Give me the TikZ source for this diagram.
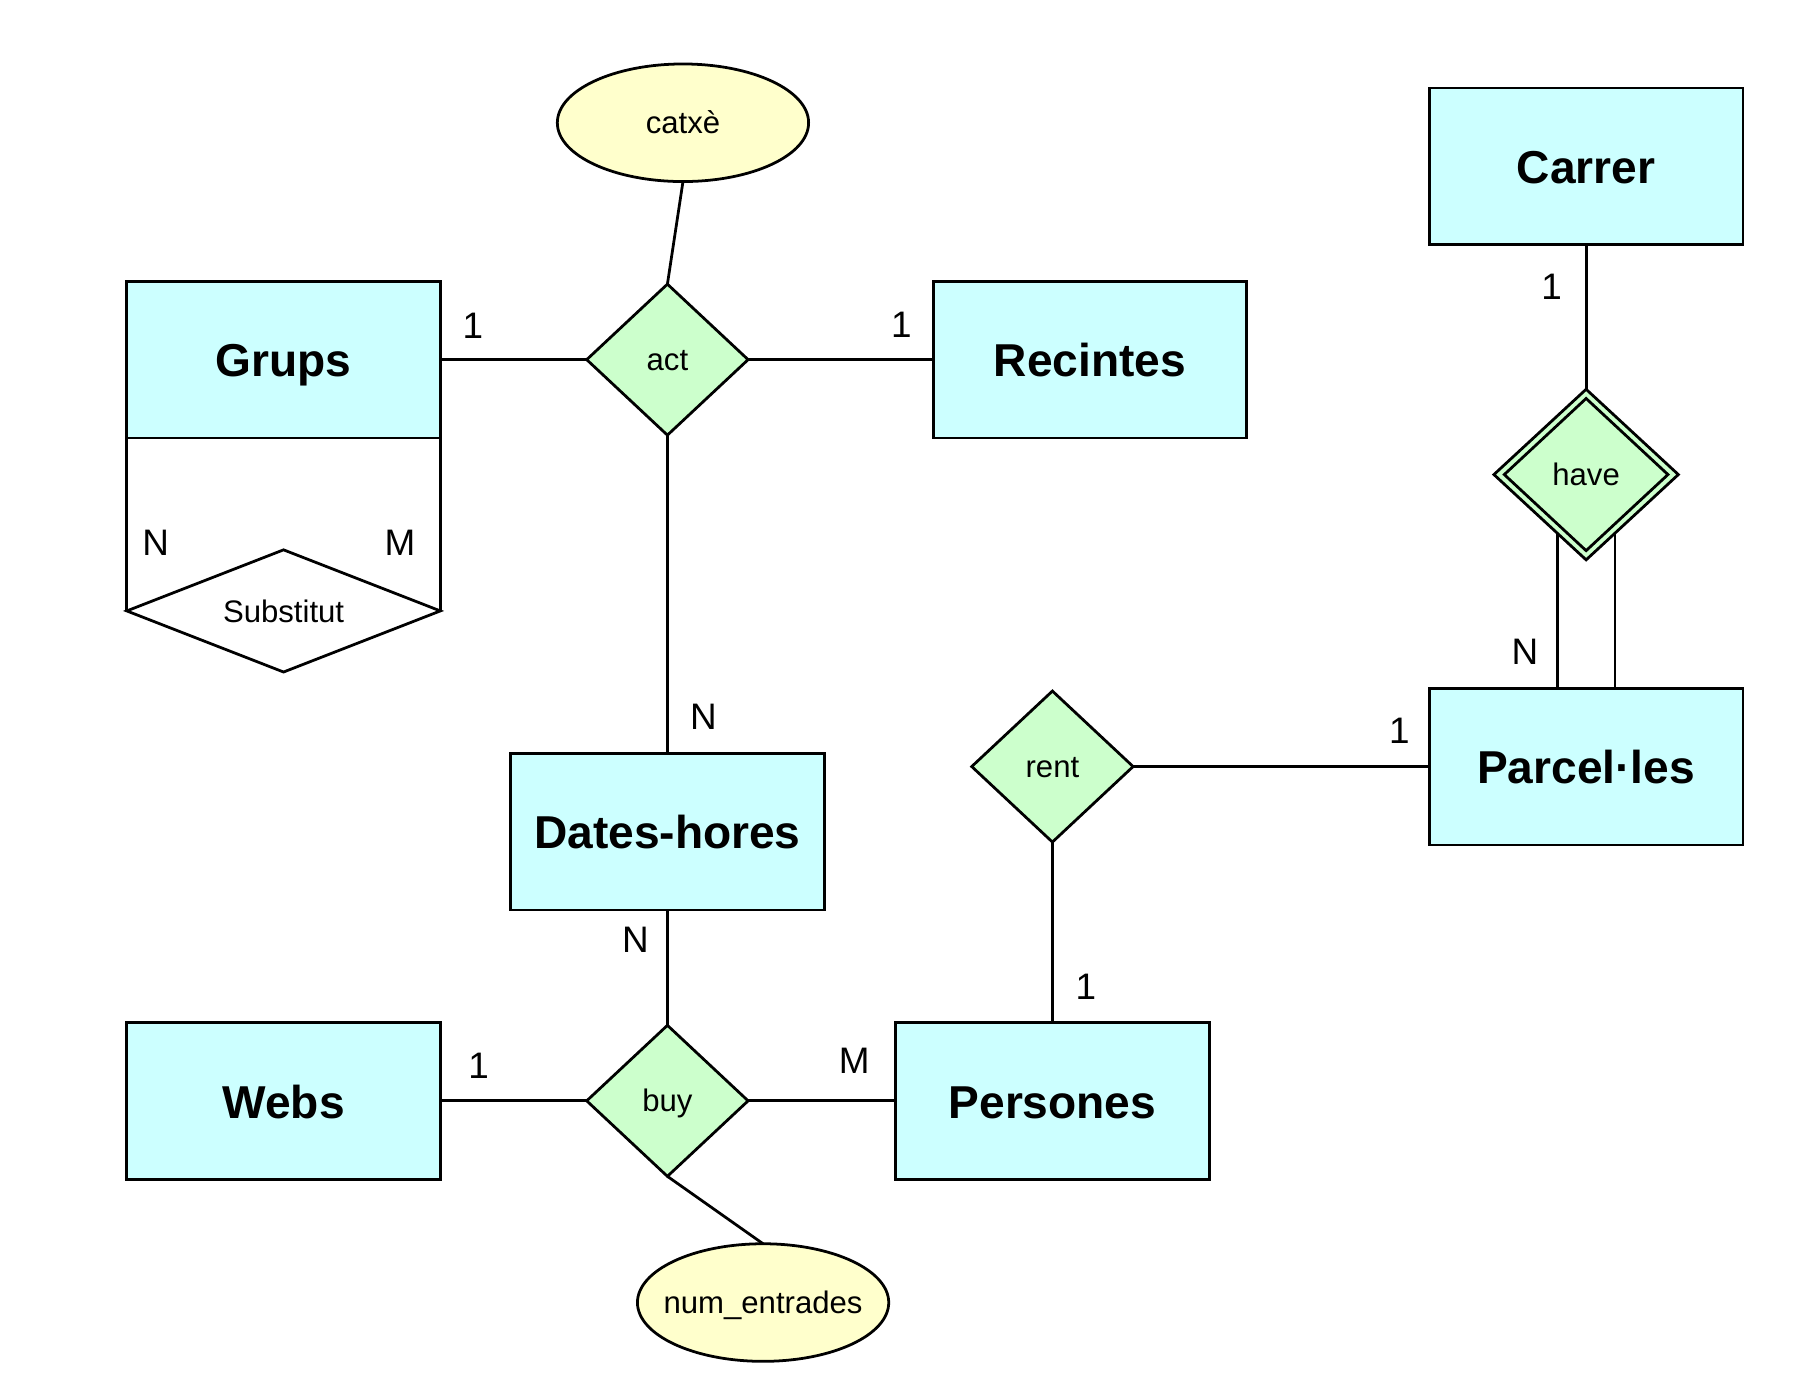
\documentclass[tikz,border=0pt]{standalone}
\usepackage{fontspec}
\setmainfont{Liberation Sans}
\usetikzlibrary{shapes.geometric}
\definecolor{entfill}{HTML}{CCFFFF}
\definecolor{relfill}{HTML}{CCFFCC}
\definecolor{attfill}{HTML}{FFFFCC}
\begin{document}
\begin{tikzpicture}[x=1pt,y=-1pt,
  every node/.style={inner sep=0pt, outer sep=0pt},
  entity/.style={draw, line width=2.4pt, fill=entfill, minimum width=272pt, minimum height=136pt,
    font=\fontsize{40}{48}\selectfont\bfseries, text height=30pt, text depth=0pt},
  rel/.style={draw, line width=2.4pt, fill=relfill, diamond, minimum width=140pt, minimum height=131pt,
    font=\fontsize{27}{32}\selectfont, text height=19.3pt, text depth=0pt},
  attr/.style={draw, line width=2.4pt, fill=attfill, ellipse, minimum width=218pt, minimum height=102pt,
    inner xsep=-16pt, font=\fontsize{27}{32}\selectfont, text height=19.3pt, text depth=0pt},
  card/.style={font=\fontsize{32}{38}\selectfont, text height=23pt, text depth=0pt},
  link/.style={line width=2.4pt}]
\fill[white] (0,0) rectangle (1568.5,1201.5);
\useasboundingbox (0,0) rectangle (1568.5,1201.5);

% entities
\node[entity] (grups) at (246,312) {Grups};
\node[entity] (recintes) at (945.5,312) {Recintes};
\node[entity] (carrer) at (1376,144.3) {Carrer};
\node[entity] (parcel) at (1376,665) {Parcel·les};
\node[entity] (dates) at (579,721.5) {Dates-hores};
\node[entity] (webs) at (246,955) {Webs};
\node[entity] (persones) at (913,955) {Persones};

% relationships
\node[rel] (act) at (579,312) {act};
\node[rel] (rent) at (913,665) {rent};
\node[rel] (buy) at (579,955) {buy};
\node[rel, minimum width=160pt, minimum height=148pt] (have) at (1376,411.7) {have};
\node[draw, line width=2.4pt, diamond, minimum width=142pt, minimum height=132pt] (havein) at (have.center) {};
\node[draw, line width=2.4pt, fill=white, diamond, aspect=2.57, minimum width=272pt, minimum height=106pt,
  font=\fontsize{27}{32}\selectfont, text height=19.3pt, text depth=0pt] (sub) at (246,530) {Substitut};

% attributes
\node[attr] (catxe) at (592.5,106.5) {catxè};
\node[attr] (num) at (662,1130) {num\_entrades};

% connectors
\coordinate (hl) at (1351,462.6);
\coordinate (hr) at (1401,462.6);
\draw[link] (catxe.south) -- (act.north);
\draw[link] (grups.east) -- (act.west);
\draw[link] (act.east) -- (recintes.west);
\draw[link] (act.south) -- (dates.north);
\draw[link] (carrer.south) -- (have.north);
\draw[link] (hl) -- (hl |- parcel.north);
\draw[link] (hr) -- (hr |- parcel.north);
\draw[link] (rent.east) -- (parcel.west);
\draw[link] (rent.south) -- (persones.north);
\draw[link] (dates.south) -- (buy.north);
\draw[link] (webs.east) -- (buy.west);
\draw[link] (buy.east) -- (persones.west);
\draw[link] (buy.south) -- (num.north);
\draw[link] (grups.south west) -- (sub.west);
\draw[link] (grups.south east) -- (sub.east);

% cardinalities
\node[card] (c1) at (410.2,282) {1};
\node[card] (c2) at (782,281) {1};
\node[card] (c3) at (135,470) {N};
\node[card] (c4) at (347,470) {M};
\node[card] (c5) at (610.2,621.2) {N};
\node[card] (c6) at (1346,248.7) {1};
\node[card] (c7) at (1323,565) {N};
\node[card] (c8) at (1214,633.3) {1};
\node[card] (c9) at (551.2,814.9) {N};
\node[card] (c10) at (942,856) {1};
\node[card] (c11) at (415.2,923.9) {1};
\node[card] (c12) at (741,920) {M};
\end{tikzpicture}
\end{document}
